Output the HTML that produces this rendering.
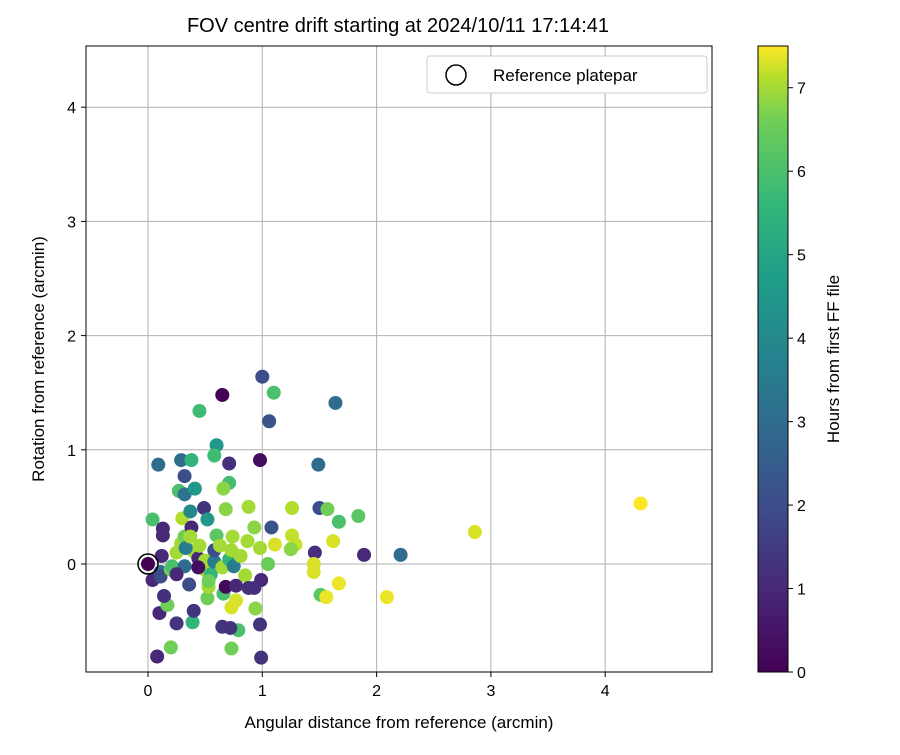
<!DOCTYPE html>
<html><head><meta charset="utf-8"><style>
body{margin:0;background:#fff;width:900px;height:750px;overflow:hidden}
svg text{font-family:"Liberation Sans","DejaVu Sans",sans-serif;fill:#000}
</style></head><body>
<svg id="c" width="900" height="750" xmlns="http://www.w3.org/2000/svg">
<defs><linearGradient id="vg" x1="0" y1="1" x2="0" y2="0">
<stop offset="0" stop-color="#440154"/><stop offset="0.13" stop-color="#482878"/><stop offset="0.25" stop-color="#3e4989"/><stop offset="0.38" stop-color="#31688e"/><stop offset="0.5" stop-color="#26828e"/><stop offset="0.63" stop-color="#1f9e89"/><stop offset="0.75" stop-color="#35b779"/><stop offset="0.88" stop-color="#6ece58"/><stop offset="0.95" stop-color="#b5de2b"/><stop offset="1" stop-color="#fde725"/></linearGradient></defs>
<text x="398" y="32" font-size="20" text-anchor="middle">FOV centre drift starting at 2024/10/11 17:14:41</text>
<g id="grid"></g><g id="pts"></g>
<rect x="86" y="46" width="626" height="626" fill="none" stroke="#000" stroke-width="1"/>
<g id="ticks"></g>
<text x="399" y="728" font-size="17" text-anchor="middle">Angular distance from reference (arcmin)</text>
<text transform="translate(44,359) rotate(-90)" font-size="17" text-anchor="middle">Rotation from reference (arcmin)</text>
<g>
<rect x="427" y="56" width="280" height="37" rx="3" fill="#fff" stroke="#ccc"/>
<circle cx="456" cy="75" r="10" fill="none" stroke="#000" stroke-width="1.5"/>
<text x="493" y="81" font-size="17">Reference platepar</text>
</g>
<rect x="758" y="46" width="30" height="626" fill="url(#vg)" stroke="#000"/>
<g id="cbt"></g>
<text transform="translate(839,359) rotate(-90)" font-size="17" text-anchor="middle">Hours from first FF file</text>
</svg>
<script>
const xTicks=[0,1,2,3,4];
const yTicks=[0,1,2,3,4];
const cbTicks=[0,1,2,3,4,5,6,7];
const xs=[0.65,1.0,1.1,1.64,0.45,1.06,0.6,0.09,0.29,0.38,0.58,0.71,0.98,1.49,0.32,0.71,0.66,0.27,0.32,0.41,0.30,0.04,0.49,0.37,0.52,0.68,0.88,1.26,1.50,1.57,1.67,1.84,2.86,4.31,2.21,1.89,1.62,1.26,1.29,1.11,1.25,1.46,1.45,1.45,1.67,1.51,1.56,2.09,1.05,0.99,0.93,0.74,0.87,0.98,1.08,0.98,0.99,0.94,0.73,0.79,0.72,0.65,0.08,0.20,0.10,0.25,0.39,0.40,0.17,0.14,0.04,0.12,0.13,0.13,0.11,0.11,0.20,0.21,0.25,0.29,0.32,0.32,0.36,0.38,0.40,0.44,0.45,0.50,0.51,0.52,0.53,0.55,0.58,0.58,0.60,0.63,0.65,0.66,0.68,0.71,0.73,0.75,0.77,0.77,0.81,0.85,0.88,0.93,0.73,0.53,0.44,0.25,0.33,0.37,0];
const ys=[1.48,1.64,1.50,1.41,1.34,1.25,1.04,0.87,0.91,0.91,0.95,0.88,0.91,0.87,0.77,0.71,0.66,0.64,0.61,0.66,0.40,0.39,0.49,0.46,0.39,0.48,0.50,0.49,0.49,0.48,0.37,0.42,0.28,0.53,0.08,0.08,0.20,0.25,0.17,0.17,0.13,0.10,0.0,-0.07,-0.17,-0.27,-0.29,-0.29,0.0,-0.14,0.32,0.24,0.20,0.14,0.32,-0.53,-0.82,-0.39,-0.74,-0.58,-0.56,-0.55,-0.81,-0.73,-0.43,-0.52,-0.51,-0.41,-0.36,-0.28,-0.14,0.07,0.31,0.25,-0.07,-0.11,-0.05,-0.02,0.10,0.18,0.24,-0.02,-0.18,0.32,0.11,0.05,0.16,0.03,-0.06,-0.30,-0.20,-0.09,0.02,0.12,0.25,0.16,-0.03,-0.26,-0.20,0.04,0.12,-0.02,-0.19,-0.32,0.07,-0.10,-0.21,-0.21,-0.38,-0.15,-0.03,-0.09,0.14,0.24,0];
const hours=[0,2,6,3,5.8,2.2,4.5,3,3,5.5,5.8,1.2,0.3,3,2,5.9,6.8,6,3.2,4.5,7.1,6,1.3,4,4.5,6.8,7,7.1,2,6.6,6,6.3,7.3,7.5,3,1,7.3,7.2,7.2,7.3,6.8,1.2,7.3,7.3,7.4,6.3,7.4,7.4,6.5,1,6.8,7,7,7,2.2,1.3,1.3,6.8,6.6,6,1.3,1.3,1,6.6,1,1.3,5.5,1.3,6.6,1.2,1,1,1,1,3,2,6.6,6,7,7,6.6,3,2,1,7,1,7,7,7,6.6,7,5.5,3.5,2,6.3,7,7,6,0.2,5.5,7,3.5,1,7.3,7,7,1.2,1.2,7.3,6.6,0.3,1,3.5,7,0];
const X=v=>148+(v-0)*114.3, Y=v=>564-v*114.2, CB=v=>672-v/7.5*626;
const vir=[[68,1,84],[72,40,120],[62,73,137],[49,104,142],[38,130,142],[31,158,137],[53,183,121],[110,206,88],[181,222,43],[253,231,37]];
const vpos=[0,0.13,0.25,0.38,0.5,0.63,0.75,0.88,0.95,1];
function col(h){let t=Math.max(0,Math.min(1,h/7.5));for(let i=1;i<vpos.length;i++){if(t<=vpos[i]){const f=(t-vpos[i-1])/(vpos[i]-vpos[i-1]);const c=vir[i-1].map((a,k)=>Math.round(a+(vir[i][k]-a)*f));return `rgb(${c})`;}}return 'rgb(253,231,37)';}
const NS='http://www.w3.org/2000/svg';
function mk(t,a,p){const e=document.createElementNS(NS,t);for(const k in a)e.setAttribute(k,a[k]);p.appendChild(e);return e;}
const G=document.getElementById('grid'),T=document.getElementById('ticks'),P=document.getElementById('pts'),C=document.getElementById('cbt');
xTicks.forEach(v=>{const x=X(v);
const g=mk('line',{x1:x,x2:x,y1:46,y2:672,stroke:'#b0b0b0','stroke-width':1},G);


mk('line',{x1:x,x2:x,y1:672,y2:677,stroke:'#000'},T);
const t=mk('text',{x:x,y:696,'font-size':16,'text-anchor':'middle'},T);t.textContent=v;

});
yTicks.forEach(v=>{const y=Y(v);
const g=mk('line',{x1:86,x2:712,y1:y,y2:y,stroke:'#b0b0b0','stroke-width':1},G);


mk('line',{x1:81,x2:86,y1:y,y2:y,stroke:'#000'},T);
const t=mk('text',{x:76,y:y+6,'font-size':16,'text-anchor':'end'},T);t.textContent=v;

});
cbTicks.forEach(v=>{const y=CB(v);
mk('line',{x1:788,x2:793,y1:y,y2:y,stroke:'#000'},C);
const t=mk('text',{x:797,y:y+6,'font-size':16},C);t.textContent=v;

});
xs.forEach((v,i)=>{const c=mk('circle',{cx:X(v),cy:Y(ys[i]),r:7,fill:col(hours[i])},P);

});
const r=mk('circle',{cx:X(0),cy:Y(0),r:10,fill:'none',stroke:'#000','stroke-width':1.5},P);


</script>
</body></html>
